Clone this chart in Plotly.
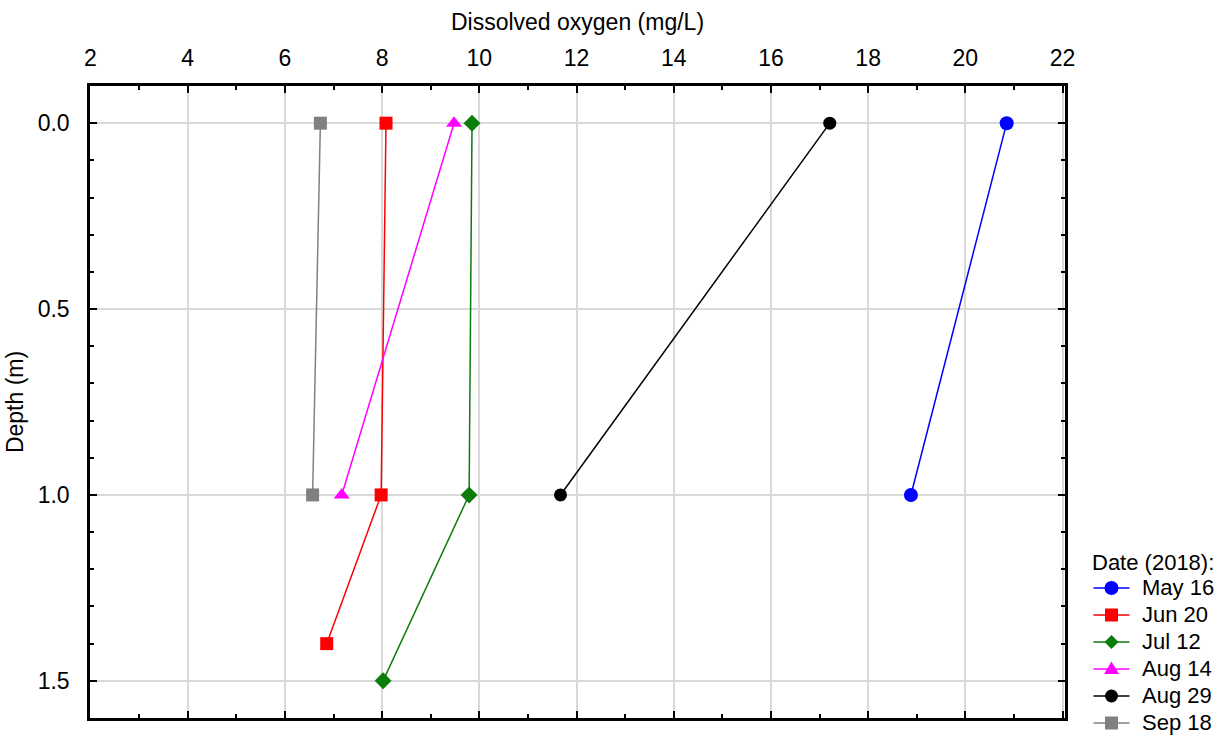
import plotly.graph_objects as go

# Dissolved oxygen profiles (mg/L) by sampling date, depth in metres
dates = ["May 16", "Jun 20", "Jul 12", "Aug 14", "Aug 29", "Sep 18"]
depth_may16 = [0.0, 1.0]
do_may16 = [20.85, 18.88]
depth_jun20 = [0.0, 1.0, 1.4]
do_jun20 = [8.08, 7.98, 6.86]
depth_jul12 = [0.0, 1.0, 1.5]
do_jul12 = [9.85, 9.79, 8.02]
depth_aug14 = [0.0, 1.0]
do_aug14 = [9.48, 7.17]
depth_aug29 = [0.0, 1.0]
do_aug29 = [17.21, 11.67]
depth_sep18 = [0.0, 1.0]
do_sep18 = [6.73, 6.57]

x_ticks = [2, 4, 6, 8, 10, 12, 14, 16, 18, 20, 22]
y_ticks = [0.0, 0.5, 1.0, 1.5]

series = [
    (dates[0], do_may16, depth_may16, "#0000ff", "circle", 14),
    (dates[1], do_jun20, depth_jun20, "#ff0000", "square", 13),
    (dates[2], do_jul12, depth_jul12, "#0a7d0a", "diamond", 13),
    (dates[3], do_aug14, depth_aug14, "#ff00ff", "triangle-up", 14),
    (dates[4], do_aug29, depth_aug29, "#000000", "circle", 13),
    (dates[5], do_sep18, depth_sep18, "#808080", "square", 13),
]

font_family = "Liberation Sans, Arial, sans-serif"

fig = go.Figure()
for name, xs, ys, color, symbol, size in series:
    fig.add_trace(go.Scatter(
        x=xs, y=ys, name=name, mode="lines+markers", showlegend=False,
        line=dict(color=color, width=1.5),
        marker=dict(color=color, symbol=symbol, size=size, line=dict(width=0)),
    ))

# Compact legend block to the right of the plot area (paper coordinates)
plot_w, plot_h = 975, 632
leg_line_x = 1.0477          # centre of the line sample
leg_text_x = 1.0769          # left edge of the entry labels
leg_title_x = 1.0256
leg_title_y = 0.2453
leg_first_y = 0.2057
leg_step = 27 / plot_h

marker_paths = {
    "circle": None,
    "square": "M-6.5,-6.5 L6.5,-6.5 L6.5,6.5 L-6.5,6.5 Z",
    "diamond": "M0,-7 L7,0 L0,7 L-7,0 Z",
    "triangle-up": "M-7.5,-5 L7.5,-5 L0,7.5 Z",
}

fig.add_annotation(
    text="Date (2018):", xref="paper", yref="paper",
    x=leg_title_x, y=leg_title_y, xanchor="left", yanchor="middle",
    showarrow=False, font=dict(family=font_family, size=22, color="black"),
)
for i, (name, xs, ys, color, symbol, size) in enumerate(series):
    yy = leg_first_y - i * leg_step
    fig.add_shape(
        type="line", xref="paper", yref="paper",
        xsizemode="pixel", ysizemode="pixel", xanchor=leg_line_x, yanchor=yy,
        x0=-18, x1=18, y0=0, y1=0, line=dict(color=color, width=1.5),
    )
    if symbol == "circle":
        r = size / 2
        fig.add_shape(
            type="circle", xref="paper", yref="paper",
            xsizemode="pixel", ysizemode="pixel", xanchor=leg_line_x, yanchor=yy,
            x0=-r, x1=r, y0=-r, y1=r, fillcolor=color, line=dict(width=0),
        )
    else:
        fig.add_shape(
            type="path", xref="paper", yref="paper",
            xsizemode="pixel", ysizemode="pixel", xanchor=leg_line_x, yanchor=yy,
            path=marker_paths[symbol], fillcolor=color, line=dict(width=0),
        )
    fig.add_annotation(
        text=name, xref="paper", yref="paper",
        x=leg_text_x, y=yy, xanchor="left", yanchor="middle",
        showarrow=False, font=dict(family=font_family, size=22, color="black"),
    )

fig.update_layout(
    width=1229, height=738,
    margin=dict(l=90, r=164, t=86, b=20),
    paper_bgcolor="white", plot_bgcolor="white",
    font=dict(family=font_family, size=23, color="black"),
    showlegend=False,
)

fig.update_xaxes(
    side="top", range=[1.99, 22.05],
    tickvals=x_ticks, ticktext=[str(v) for v in x_ticks],
    ticks="inside", ticklen=7, tickwidth=2, tickcolor="black",
    minor=dict(dtick=1, tick0=2, ticks="inside", ticklen=4, tickwidth=1.5,
               tickcolor="black", showgrid=False),
    showgrid=True, gridcolor="#d9d9d9", gridwidth=1.5,
    showline=True, linecolor="black", linewidth=2.5, mirror="ticks",
    zeroline=False, tickfont=dict(size=23), ticklabelstandoff=8,
    title=dict(text="Dissolved oxygen (mg/L)", font=dict(size=23), standoff=8),
)

fig.update_yaxes(
    range=[1.6, -0.1],
    tickvals=y_ticks, ticktext=[f"{v:.1f}" for v in y_ticks],
    ticks="inside", ticklen=7, tickwidth=2, tickcolor="black",
    minor=dict(dtick=0.1, tick0=0, ticks="inside", ticklen=4, tickwidth=1.5,
               tickcolor="black", showgrid=False),
    showgrid=True, gridcolor="#d9d9d9", gridwidth=1.5,
    showline=True, linecolor="black", linewidth=2.5, mirror="ticks",
    zeroline=False, tickfont=dict(size=23), ticklabelstandoff=13,
    title=dict(text="Depth (m)", font=dict(size=23), standoff=8),
)

fig.write_html("out.html")
